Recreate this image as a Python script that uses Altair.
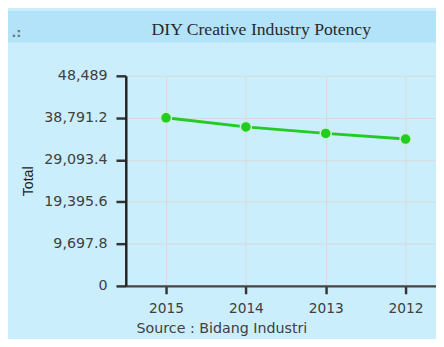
import altair as alt
import pandas as pd

years = ["2015", "2014", "2013", "2012"]
totals = [38800, 36700, 35200, 33900]
y_ticks = [0, 9697.8, 19395.6, 29093.4, 38791.2, 48489]
title_text = "DIY Creative Industry Potency"
source_text = "Source : Bidang Industri"
y_title = "Total"

df = pd.DataFrame({"year": years, "total": totals})

W, H = 316, 214
LEFT, TOP, BOTTOM = 120, 66, 51

x_enc = alt.X("year:N", sort=years,
              scale=alt.Scale(type="point", padding=0.4426, align=0.5694),
              axis=alt.Axis(title=None, labelAngle=0, labelFont="DejaVu Sans",
                            labelFontSize=14, labelColor="#404040",
                            tickSize=8, tickWidth=2.5, tickColor="#333",
                            labelPadding=8, domainColor="#444", domainWidth=2.5,
                            grid=True, gridColor="#d9d9d9", gridWidth=1))
y_enc = alt.Y("total:Q",
              scale=alt.Scale(domain=[0, 48489], nice=False, zero=True),
              axis=alt.Axis(values=y_ticks, labelExpr="format(datum.value, ',')",
                            title=y_title,
                            labelFont="DejaVu Sans", labelFontSize=14.5,
                            labelColor="#404040", tickSize=10, tickWidth=2.5,
                            tickColor="#333", labelPadding=9,
                            domainColor="#222", domainWidth=2.5,
                            grid=True, gridColor="#d9d9d9", gridWidth=1,
                            titleFont="Liberation Sans", titleFontSize=14.5,
                            titleFontWeight="normal", titleColor="#222",
                            titleX=-95, titleY=H / 2, titleAngle=-90,
                            titleBaseline="alphabetic", titleAlign="center"))

band = alt.Chart(pd.DataFrame({"k": [0]})).mark_rect(color="#b3e3f8").encode(
    x=alt.value(-LEFT), x2=alt.value(W), y=alt.value(-TOP), y2=alt.value(-TOP + 32))

title = alt.Chart(pd.DataFrame({"t": [title_text]})).mark_text(
    font="Liberation Serif", fontSize=18, color="#2a2a2a",
    align="center", baseline="alphabetic").encode(
    text="t:N", x=alt.value(138), y=alt.value(-42))

dots = alt.Chart(pd.DataFrame({"t": [".:"]})).mark_text(
    font="DejaVu Sans", fontSize=13, fontWeight="bold", color="#6a7a80",
    align="left", baseline="alphabetic").encode(
    text="t:N", x=alt.value(-116.5), y=alt.value(-39.5))

source = alt.Chart(pd.DataFrame({"t": [source_text]})).mark_text(
    font="DejaVu Sans", fontSize=14.5, color="#404040",
    align="left", baseline="alphabetic").encode(
    text="t:N", x=alt.value(11), y=alt.value(262))

base = alt.Chart(df).encode(x=x_enc, y=y_enc)
line = base.mark_line(color="#22cc22", strokeWidth=3)
pts = base.mark_point(filled=True, size=125, color="#22cc22", opacity=1,
                      stroke="#c6f2d0", strokeWidth=1.5)

chart = alt.layer(band, line, pts, title, dots, source).properties(
    width=W, height=H,
    autosize=alt.AutoSizeParams(type="none"),
    padding={"left": LEFT, "top": TOP, "right": 0, "bottom": BOTTOM},
    background="#cbeefc",
).configure_view(strokeOpacity=0)

chart.save("out.html", embed_options={"renderer": "svg", "actions": False})
